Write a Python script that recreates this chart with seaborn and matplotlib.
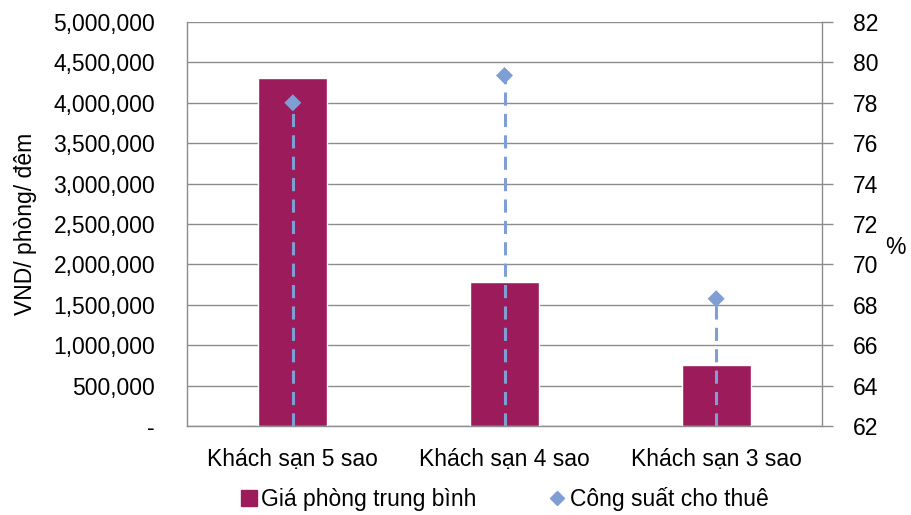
import matplotlib
matplotlib.use("Agg")
import matplotlib.pyplot as plt
import seaborn as sns
import numpy as np
import pandas as pd
from matplotlib.lines import Line2D
from matplotlib.ticker import FuncFormatter, MultipleLocator

categories = ["Khách sạn 5 sao", "Khách sạn 4 sao", "Khách sạn 3 sao"]
avg_price = [4310000, 1785000, 752000]
occupancy = [78.0, 79.35, 68.3]
series_names = ["Giá phòng trung bình", "Công suất cho thuê"]
left_label = "VND/ phòng/ đêm"
right_label = "%"

bar_color = "#9C1C5B"
pt_color = "#7F9ED4"
grid_color = "#8C8C8C"

sns.set_theme(style="white")
plt.rcParams["font.family"] = ["Liberation Sans", "DejaVu Sans"]
plt.rcParams["text.color"] = "black"
plt.rcParams["xtick.color"] = "black"
plt.rcParams["ytick.color"] = "black"
plt.rcParams["axes.labelcolor"] = "black"
FS = 16.5

df = pd.DataFrame({"cat": categories, "price": avg_price, "occ": occupancy})

fig = plt.figure(figsize=(9.11, 5.15), dpi=100)
ax = fig.add_axes([187/911, 1-426/515, (822-187)/911, (426-22)/515])

sns.barplot(data=df, x="cat", y="price", color=bar_color, width=0.325,
            saturation=1, ax=ax, zorder=3)
ax.set_xlim(-0.5, 2.5)
ax.set_ylim(0, 5000000)
ax.yaxis.set_major_locator(MultipleLocator(500000))
ax.yaxis.set_major_formatter(FuncFormatter(lambda v, p: "-" if v == 0 else f"{int(v):,}"))
ax.set_xlabel("")
ax.set_ylabel(left_label, fontsize=FS, labelpad=12)
ax.grid(axis="y", color=grid_color, lw=1.0, zorder=0)
ax.set_axisbelow(True)
ax.tick_params(axis="y", labelsize=FS, pad=23, length=0)
ax.tick_params(axis="x", labelsize=FS, pad=16, length=0)
for s in ax.spines.values():
    s.set_color(grid_color)
    s.set_linewidth(1.0)
ax.spines["top"].set_visible(False)

ax2 = ax.twinx()
xpos = np.arange(len(categories))
ax2.vlines(xpos, 62, occupancy, colors=pt_color, lw=2.2,
           linestyles=[(0, (4.3, 2.7))], zorder=4)
sns.scatterplot(x=xpos, y=occupancy, marker="D", s=75, color=pt_color,
                edgecolor="none", ax=ax2, zorder=5, legend=False)
ax2.set_xlim(-0.5, 2.5)
ax2.set_ylim(62, 82)
ax2.yaxis.set_major_locator(MultipleLocator(2))
ax2.tick_params(axis="y", labelsize=FS, pad=14, length=8, width=1.0,
                color=grid_color, labelcolor="black", direction="out", right=True)
ax2.set_ylabel(right_label, fontsize=FS, rotation=0)
ax2.yaxis.set_label_coords(1.115, 0.47)
for s in ax2.spines.values():
    s.set_visible(False)

handles = [
    Line2D([], [], marker="s", ls="none", color=bar_color, markersize=12),
    Line2D([], [], marker="D", ls="none", color=pt_color, markersize=7),
]
fig.legend(handles, series_names, loc="lower center", bbox_to_anchor=(0.552, -0.033),
           ncol=2, frameon=False, fontsize=FS, handletextpad=0.05,
           columnspacing=3.0, handlelength=1.0)

fig.savefig("out.png", dpi=100)
